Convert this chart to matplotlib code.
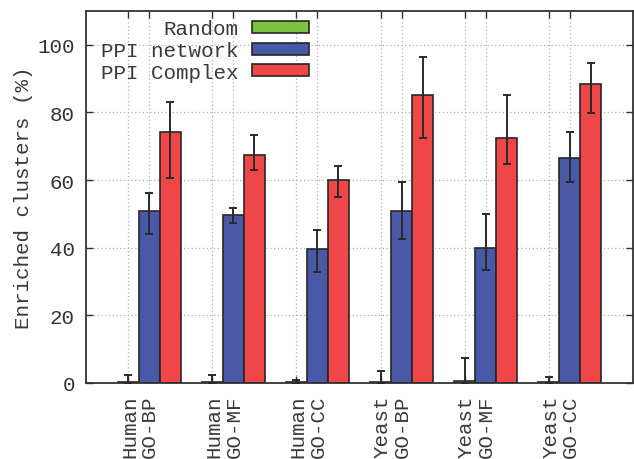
import numpy as np
import matplotlib
matplotlib.use("Agg")
import matplotlib.pyplot as plt

# ── Data ───────────────────────────────────────────────────────────────────────

groups = ["Human\nGO-BP", "Human\nGO-MF", "Human\nGO-CC",
          "Yeast\nGO-BP", "Yeast\nGO-MF", "Yeast\nGO-CC"]
series = ["Random", "PPI network", "PPI Complex"]

random_val = [0.3, 0.3, 0.2, 0.3, 0.5, 0.3]
random_lo  = [0.0, 0.0, 0.0, 0.0, 0.0, 0.0]
random_hi  = [2.4, 2.4, 0.8, 3.6, 7.3, 1.9]

network_val = [51.0, 49.7, 39.7, 50.8, 40.0, 66.6]
network_lo  = [44.1, 47.3, 32.7, 42.7, 33.3, 59.3]
network_hi  = [56.3, 51.7, 45.1, 59.3, 50.0, 74.2]

complex_val = [74.2, 67.5, 60.1, 85.1, 72.3, 88.5]
complex_lo  = [60.6, 63.0, 55.1, 72.3, 64.9, 79.7]
complex_hi  = [83.2, 73.2, 64.1, 96.5, 85.3, 94.6]

colors = ["#7cc242", "#4a59a7", "#ef4747"]
TXT = "#3a3a3a"
FS = 15

# ── Chart ──────────────────────────────────────────────────────────────────────

plt.rcParams["font.family"] = ["Liberation Mono", "DejaVu Sans Mono"]

fig = plt.figure(figsize=(6.34, 4.60), dpi=100)
ax = fig.add_axes([86 / 634, 76 / 460, 547 / 634, 372 / 460])

x = np.arange(len(groups))
width = 0.25
data = [(random_val, random_lo, random_hi),
        (network_val, network_lo, network_hi),
        (complex_val, complex_lo, complex_hi)]

for k, (vals, lo, hi) in enumerate(data):
    vals = np.array(vals)
    err = [vals - np.array(lo), np.array(hi) - vals]
    pos = x + k * width
    ax.bar(pos, vals, width, color=colors[k], edgecolor="#262626",
           linewidth=1.2, label=series[k], zorder=2)
    ax.errorbar(pos, vals, yerr=err, fmt="none", ecolor="#2a2a2a",
                elinewidth=1.4, capsize=2.8, capthick=1.4, zorder=3)

ax.set_xlim(-0.5, 6.0)
ax.set_ylim(0, 110)
ax.set_yticks(np.arange(0, 101, 20))
ax.set_xticks(np.concatenate([x, x + width]))
ax.set_xticklabels([])
ax.tick_params(axis="both", direction="in", top=True, right=True,
               length=5, width=1, labelsize=FS, colors="#333333", pad=8)
ax.grid(True, linestyle=(0, (1, 2)), color="#b0b0b0", linewidth=0.9, zorder=0)
ax.set_axisbelow(True)
for s in ax.spines.values():
    s.set_linewidth(1.3)
    s.set_color("#333333")

for i, g in enumerate(groups):
    ax.text(i + 0.14, -3.5, g, rotation=90, ha="center", va="top",
            multialignment="right", fontsize=FS, color=TXT,
            linespacing=1.05)

ax.set_ylabel("Enriched clusters (%)", fontsize=FS, color=TXT, labelpad=3)

leg = ax.legend(loc="upper left", bbox_to_anchor=(0.0, 1.017), frameon=False,
                markerfirst=False, fontsize=FS, handlelength=2.75,
                handleheight=0.5, labelspacing=0.13, handletextpad=0.65,
                borderaxespad=0.3)
for t in leg.get_texts():
    t.set_ha("right")
    t.set_color(TXT)

fig.savefig("out.png", dpi=100)
